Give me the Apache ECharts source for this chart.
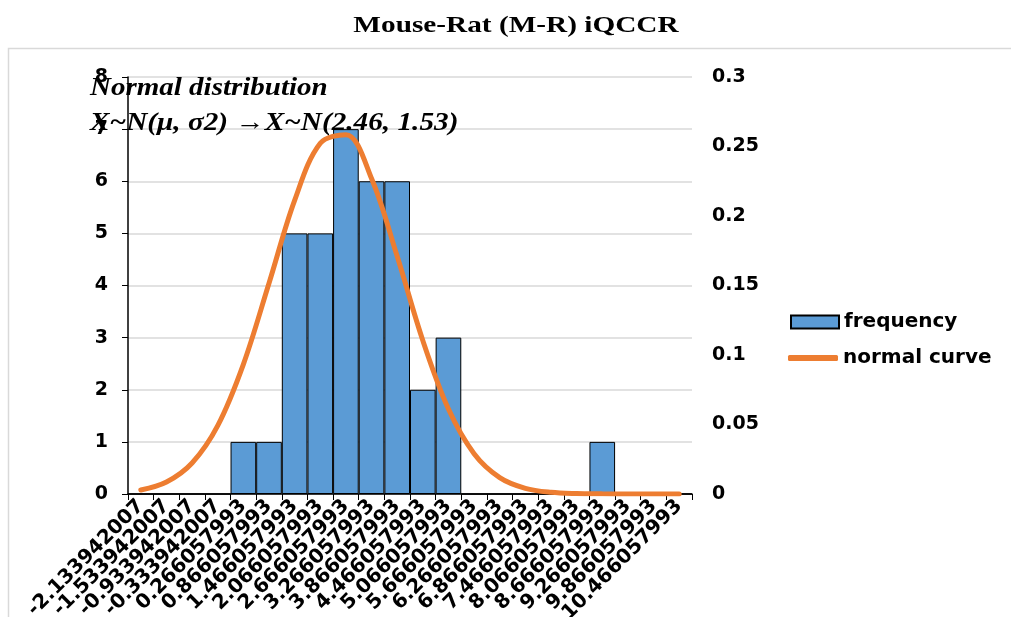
<!DOCTYPE html>
<html>
<head>
<meta charset="utf-8">
<title>Mouse-Rat (M-R) iQCCR</title>
<script src="https://cdn.jsdelivr.net/npm/echarts@6/dist/echarts.min.js"></script>
<style>
html,body{margin:0;padding:0;background:#fff;}
#chart{width:1011px;height:617px;}
</style>
</head>
<body>
<div id="chart"></div>
<script>
// bin labels (x axis)
var binLabels = ['-2.133942007','-1.533942007','-0.933942007','-0.333942007','0.266057993','0.866057993',
	'1.466057993','2.066057993','2.666057993','3.266057993','3.866057993','4.466057993','5.066057993',
	'5.666057993','6.266057993','6.866057993','7.466057993','8.066057993','8.666057993','9.266057993',
	'9.866057993','10.466057993'];
// histogram counts
var frequency = [0,0,0,0,1,1,5,5,7,6,6,2,3,0,0,0,0,0,1,0,0,0];
// normal curve
var normalCurve = [0.0029,0.0086,0.0223,0.0492,0.0933,0.1516,0.2112,0.2523,0.2585,0.2270,0.1710,0.1104,
	0.0611,0.0290,0.0118,0.0041,0.0012,0.0003,0.0001,0,0,0];
var leftTicks = {min:0,max:8,interval:1};
var rightTicks = {min:0,max:0.3,interval:0.05};

var chart = echarts.init(document.getElementById('chart'));
var sans = 'DejaVu Sans, Verdana, sans-serif';
var serif = '"Liberation Serif", "Times New Roman", serif';
var lbl = {fontFamily:sans,fontWeight:'bold',fontSize:19,color:'#000'};
var legendText = {fontFamily:sans,fontWeight:'bold',fontSize:20,color:'#000'};
var option = {
	animation:false,
	grid:{left:128,right:319,top:77,bottom:123,containLabel:false,outerBoundsMode:'none'},
	legend:[{
		data:['frequency'],
		orient:'vertical',
		left:785,
		top:307,
		itemWidth:48,
		itemHeight:13,
		icon:'rect',
		textStyle:legendText
	},{
		data:['normal curve'],
		orient:'vertical',
		left:783,
		top:343,
		itemWidth:50,
		itemHeight:6,
		icon:'roundRect',
		textStyle:legendText
	}],
	xAxis:{
		type:'category',
		data:binLabels,
		boundaryGap:true,
		axisLine:{lineStyle:{color:'#000',width:1.5}},
		axisTick:{show:true,length:6,lineStyle:{color:'#000'}},
		axisLabel:{rotate:45,interval:0,margin:9,fontFamily:sans,fontWeight:'bold',fontSize:20,color:'#000'}
	},
	yAxis:[{
		type:'value',
		min:leftTicks.min,max:leftTicks.max,interval:leftTicks.interval,
		axisLine:{show:true,lineStyle:{color:'#000',width:1.5}},
		axisTick:{show:true,length:6,lineStyle:{color:'#000'}},
		axisLabel:Object.assign({margin:20},lbl),
		splitLine:{lineStyle:{color:'#d9d9d9',width:1.5}}
	},{
		type:'value',
		min:rightTicks.min,max:rightTicks.max,interval:rightTicks.interval,
		axisLine:{show:false},
		axisTick:{show:false},
		axisLabel:Object.assign({margin:20},lbl),
		splitLine:{show:false}
	}],
	graphic:[{
		type:'rect',
		z:-10,
		shape:{x:8.5,y:48.5,width:1100,height:700},
		style:{fill:'none',stroke:'#d9d9d9',lineWidth:1.5}
	},{
		type:'text',
		x:516,y:14,scaleX:1.22,z:100,
		style:{text:'Mouse-Rat (M-R) iQCCR',font:'bold 24px '+serif,fill:'#000',align:'center'}
	},{
		type:'text',
		x:90,y:76,scaleX:1.16,z:100,
		style:{text:'Normal distribution',font:'italic bold 25px '+serif,fill:'#000'}
	},{
		type:'text',
		x:90,y:111,scaleX:1.17,z:100,
		style:{text:'X~N(\u03bc, \u03c32) \u2192X~N(2.46, 1.53)',font:'italic bold 25px '+serif,fill:'#000'}
	}],
	series:[{
		name:'frequency',
		type:'bar',
		data:frequency,
		barCategoryGap:'0%',
		itemStyle:{color:'#5b9bd5',borderColor:'#000',borderWidth:1}
	},{
		name:'normal curve',
		type:'line',
		yAxisIndex:1,
		data:normalCurve,
		smooth:0.35,
		showSymbol:false,
		symbol:'none',
		lineStyle:{color:'#ed7d31',width:5,cap:'round'},
		itemStyle:{color:'#ed7d31'},
		z:3
	}]
};
chart.setOption(option);
</script>
</body>
</html>
